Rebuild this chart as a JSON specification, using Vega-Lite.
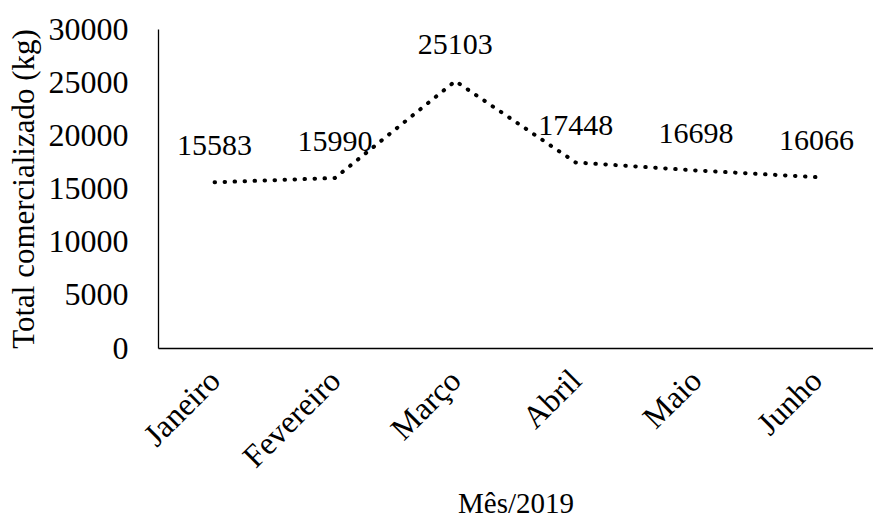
{
  "$schema": "https://vega.github.io/schema/vega-lite/v6.json",
  "autosize": "none",
  "width": 715,
  "height": 319,
  "padding": {"left": 158, "top": 29, "right": 0, "bottom": 170},
  "background": "white",
  "config": {
    "view": {"stroke": null},
    "font": "Liberation Serif",
    "axis": {"grid": false, "ticks": false, "domainColor": "black", "domainWidth": 1.3, "labelColor": "black", "titleColor": "black", "labelFont": "Liberation Serif", "titleFont": "Liberation Serif", "labelFontSize": 32, "titleFontSize": 32, "titleFontWeight": "normal"}
  },
  "data": {
    "values": [
      {"mes": "Janeiro", "total": 15583},
      {"mes": "Fevereiro", "total": 15990},
      {"mes": "Março", "total": 25103},
      {"mes": "Abril", "total": 17448},
      {"mes": "Maio", "total": 16698},
      {"mes": "Junho", "total": 16066}
    ]
  },
  "encoding": {
    "x": {
      "field": "mes", "type": "ordinal", "sort": null,
      "scale": {"type": "point", "padding": 0.47},
      "axis": {"title": "Mês/2019", "titleFontSize": 29, "labelAngle": -45, "labelAlign": "right", "labelBaseline": "middle", "labelPadding": 27, "titlePadding": 16}
    },
    "y": {
      "field": "total", "type": "quantitative",
      "scale": {"domain": [0, 30000]},
      "axis": {"title": "Total comercializado (kg)", "titleFontSize": 31, "values": [0, 5000, 10000, 15000, 20000, 25000, 30000], "format": "d", "labelPadding": 30, "titlePadding": 8}
    }
  },
  "layer": [
    {
      "mark": {"type": "line", "color": "black", "strokeWidth": 4, "strokeCap": "round", "strokeDash": [0.5, 9.5]}
    },
    {
      "mark": {"type": "text", "fontSize": 30, "font": "Liberation Serif", "color": "black", "dy": -36},
      "encoding": {"text": {"field": "total", "type": "quantitative", "format": "d"}}
    }
  ]
}
